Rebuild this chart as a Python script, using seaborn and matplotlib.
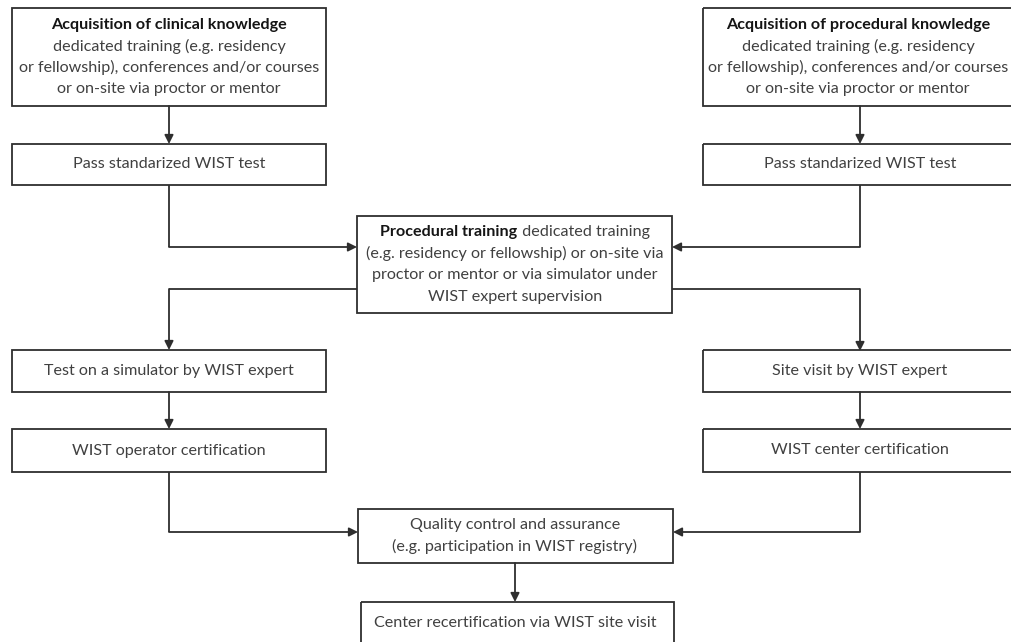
import matplotlib
matplotlib.use('Agg')
import matplotlib.pyplot as plt
import seaborn as sns
from matplotlib.patches import Rectangle

sns.set_theme(style='white')
plt.rcParams['font.family'] = ['Lato', 'DejaVu Sans']

# box texts: (bold heading, plain lines)
clin_title = 'Acquisition of clinical knowledge'
proc_title = 'Acquisition of procedural knowledge'
acq_lines = ['dedicated training (e.g. residency',
             'or fellowship), conferences and/or courses',
             'or on-site via proctor or mentor']
pass_text = 'Pass standarized WIST test'
train_bold = 'Procedural training'
train_lines = [' dedicated training',
               '(e.g. residency or fellowship) or on-site via',
               'proctor or mentor or via simulator under',
               'WIST expert supervision']
left_steps = ['Test on a simulator by WIST expert', 'WIST operator certification']
right_steps = ['Site visit by WIST expert', 'WIST center certification']
quality_lines = ['Quality control and assurance', '(e.g. participation in WIST registry)']
recert_text = 'Center recertification via WIST site visit'

W, H = 1011, 642
LC = '#2e2e2e'
TC = '#404040'
FS = 11.6
LH = 21.5

fig = plt.figure(figsize=(W / 100, H / 100), dpi=100)
ax = fig.add_axes([0, 0, 1, 1])
ax.set_xlim(0, W)
ax.set_ylim(H, 0)
ax.axis('off')


def box(x0, y0, x1, y1):
    ax.add_patch(Rectangle((x0, y0), x1 - x0, y1 - y0, fill=False,
                           ec=LC, lw=1.3, clip_on=False))


def lines(cx, cy, texts, bold_first=False):
    n = len(texts)
    for i, t in enumerate(texts):
        y = cy + (i - (n - 1) / 2) * LH
        w = 'bold' if (bold_first and i == 0) else 'normal'
        c = '#151515' if w == 'bold' else TC
        ax.text(cx, y, t, ha='center', va='center', fontsize=FS,
                fontweight=w, color=c)


def path(pts):
    xs = [p[0] for p in pts[:-1]]
    ys = [p[1] for p in pts[:-1]]
    if len(pts) > 2:
        ax.plot(xs, ys, color=LC, lw=1.3, solid_capstyle='butt')
    ax.annotate('', xy=pts[-1], xytext=pts[-2],
                arrowprops=dict(arrowstyle='-|>', color=LC, lw=1.3,
                                shrinkA=0, shrinkB=0, mutation_scale=13))


# columns
LX0, LX1, LCX = 12, 326, 169
RX0, RX1, RCX = 703, 1016, 860
MX0, MX1, MCX = 357, 672, 515

# top boxes
box(LX0, 8, LX1, 106)
lines(LCX, 57, [clin_title] + acq_lines, bold_first=True)
box(RX0, 8, RX1, 106)
lines(RCX - 2, 57, [proc_title] + acq_lines, bold_first=True)

box(LX0, 144, LX1, 185)
lines(LCX, 164.5, [pass_text])
box(RX0, 144, RX1, 185)
lines(RCX, 164.5, [pass_text])
path([(LCX, 106), (LCX, 144)])
path([(RCX, 106), (RCX, 144)])

# procedural training box
box(MX0, 216, MX1, 313)
cy0 = 264.5 - 1.5 * LH
fig.canvas.draw()
r = fig.canvas.get_renderer()
tb = ax.text(0, cy0, train_bold, ha='left', va='center', fontsize=FS,
             fontweight='bold', color='#151515')
tn = ax.text(0, cy0, train_lines[0], ha='left', va='center', fontsize=FS,
             color=TC)
inv = ax.transData.inverted()
def width(t):
    bb = t.get_window_extent(renderer=r)
    a = inv.transform((bb.x0, bb.y0))
    b = inv.transform((bb.x1, bb.y0))
    return b[0] - a[0]
wb, wn = width(tb), width(tn)
start = MCX - (wb + wn) / 2
tb.set_x(start)
tn.set_x(start + wb)
lines(MCX, 264.5 + 0.5 * LH, train_lines[1:])

path([(LCX, 185), (LCX, 247), (MX0, 247)])
path([(RCX, 185), (RCX, 247), (MX1, 247)])
path([(MX0, 289), (LCX, 289), (LCX, 350)])
path([(MX1, 289), (RCX, 289), (RCX, 351)])

# left / right step boxes
for (t0, t1), x0, x1, cx in [(left_steps, LX0, LX1, LCX), (right_steps, RX0, RX1, RCX)]:
    box(x0, 350, x1, 392)
    lines(cx, 371, [t0])
    box(x0, 429, x1, 472)
    lines(cx, 450.5, [t1])
    path([(cx, 392), (cx, 429)])

# quality box
box(358, 509, 673, 563)
lines(MCX, 536, quality_lines)
path([(LCX, 472), (LCX, 532), (358, 532)])
path([(RCX, 472), (RCX, 532), (673, 532)])

# recertification
box(361, 602, 674, 660)
lines(MCX, 623, [recert_text])
path([(MCX, 563), (MCX, 602)])

fig.savefig('out.png', dpi=100, facecolor='white')
